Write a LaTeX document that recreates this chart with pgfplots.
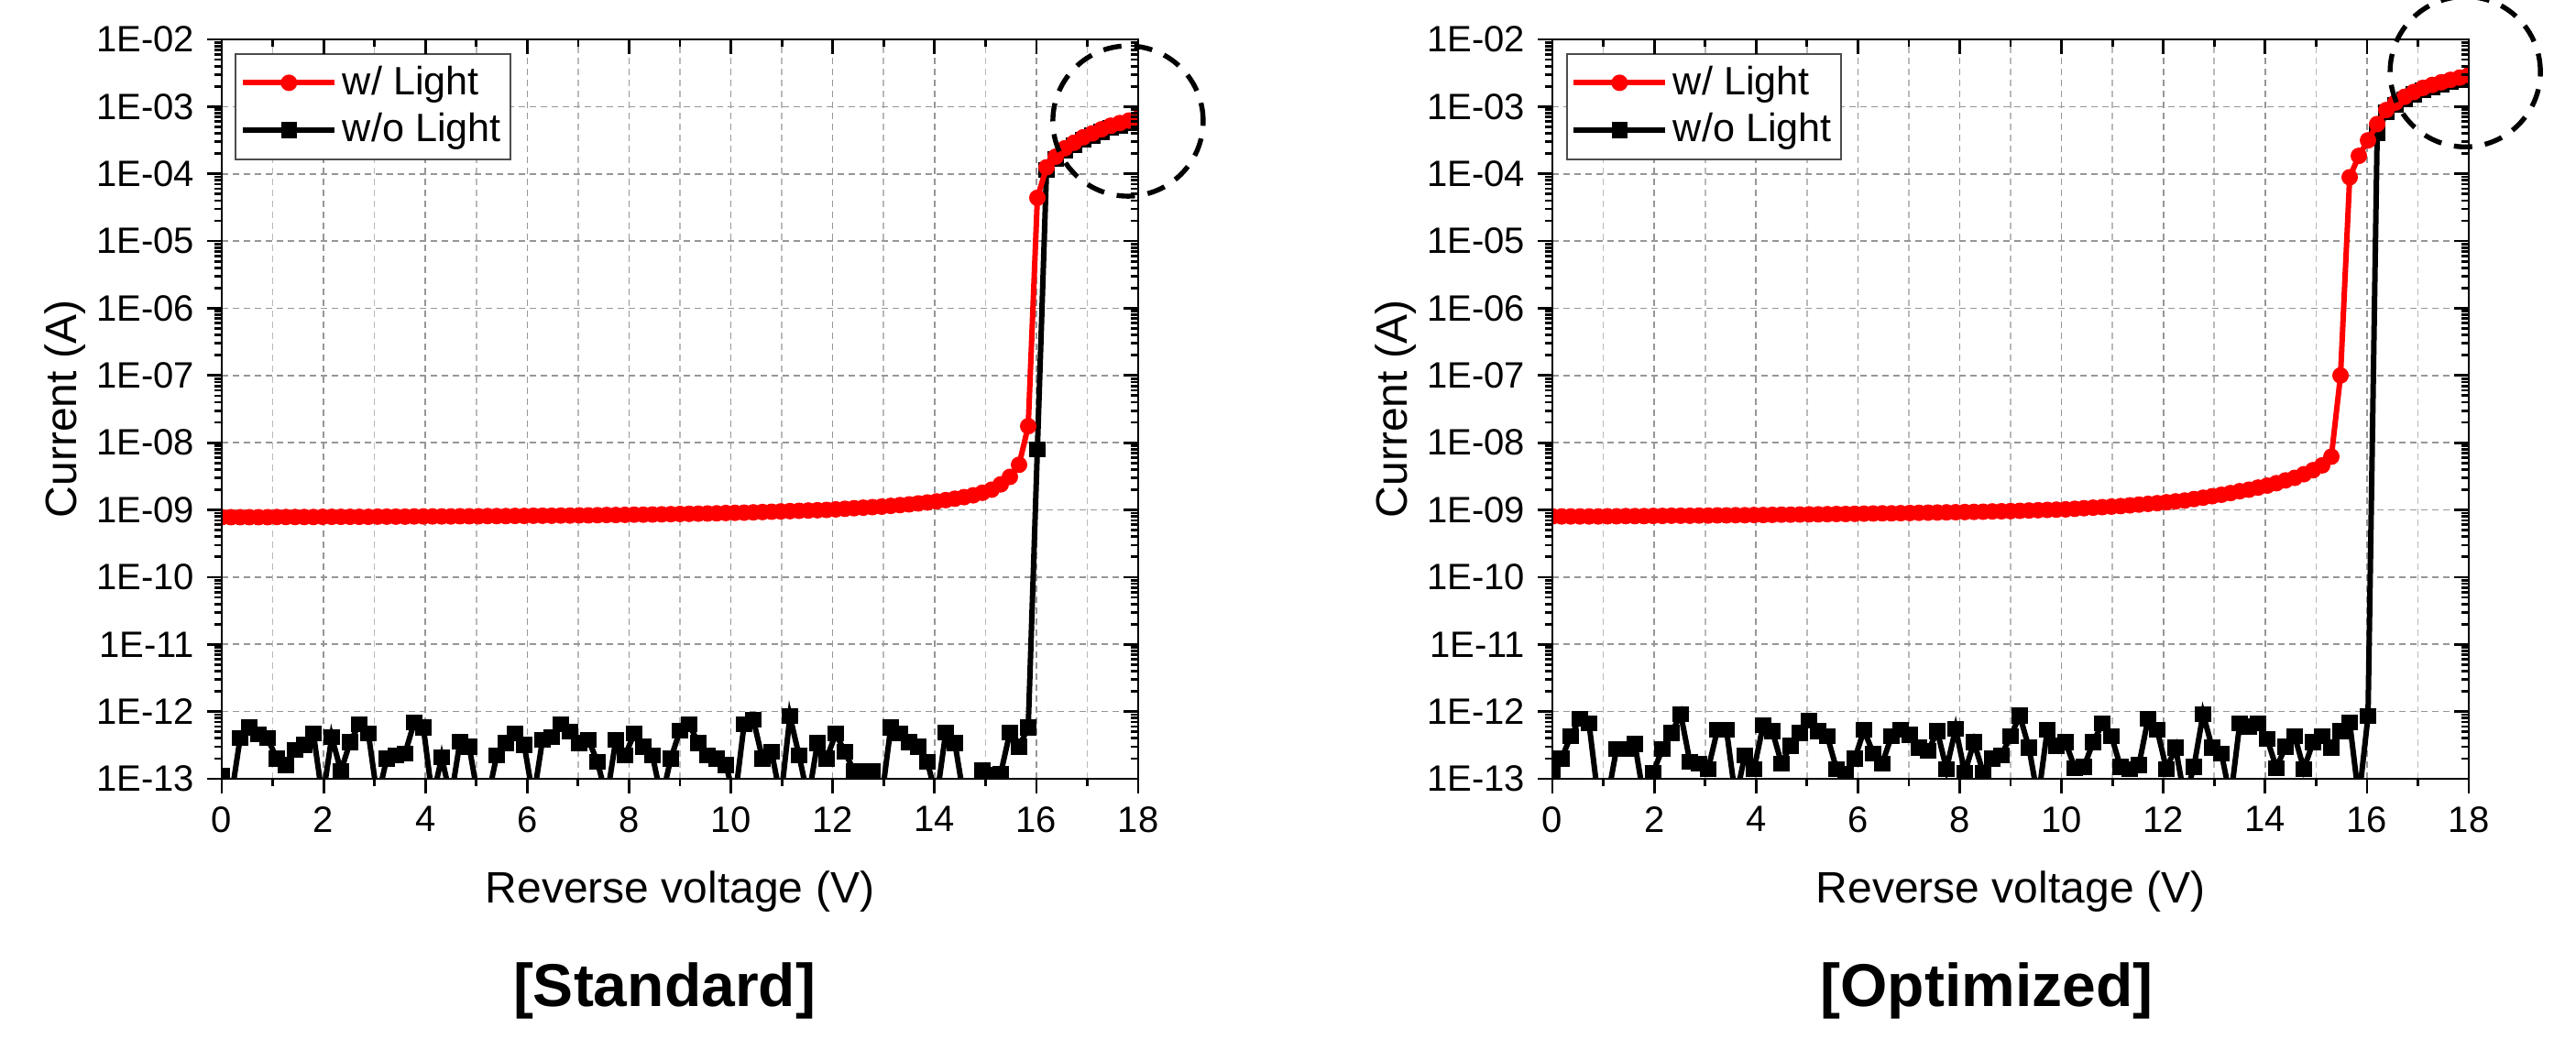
\documentclass[border=0pt]{standalone}
\usepackage{fontspec}
\setmainfont{Liberation Sans}
\usepackage{pgfplots}
\usepackage{pgfplotstable}
\pgfplotsset{compat=1.18}
\definecolor{gridmaj}{RGB}{150,150,150}
\definecolor{gridmin}{RGB}{185,185,185}

\pgfplotstableread{
x rL bL rR bR
0 7.8e-10 1.1e-13 8.0e-10 1.24e-13
0.18 7.8e-10 5e-14 8.0e-10 2.0e-13
0.36 7.8e-10 4.0e-13 8.0e-10 4.3e-13
0.54 7.8e-10 5.8e-13 8.0e-10 7.8e-13
0.72 7.8e-10 4.6e-13 8.0e-10 6.6e-13
0.9 7.8e-10 4.0e-13 8.0e-10 5e-14
1.08 7.85e-10 2.0e-13 8.05e-10 5e-14
1.26 7.85e-10 1.6e-13 8.05e-10 2.8e-13
1.44 7.85e-10 2.7e-13 8.1e-10 2.8e-13
1.62 7.85e-10 3.2e-13 8.1e-10 3.3e-13
1.8 7.85e-10 4.7e-13 8.1e-10 5e-14
1.98 7.9e-10 5e-14 8.15e-10 1.24e-13
2.16 7.9e-10 4.2e-13 8.15e-10 2.8e-13
2.34 7.9e-10 1.3e-13 8.2e-10 4.8e-13
2.52 7.9e-10 3.5e-13 8.2e-10 9.2e-13
2.7 7.9e-10 6.5e-13 8.2e-10 1.8e-13
2.88 7.9e-10 4.7e-13 8.25e-10 1.7e-13
3.06 7.95e-10 5e-14 8.25e-10 1.4e-13
3.24 7.95e-10 2.0e-13 8.3e-10 5.3e-13
3.42 7.95e-10 2.2e-13 8.3e-10 5.3e-13
3.6 7.95e-10 2.4e-13 8.35e-10 5e-14
3.78 8.0e-10 6.9e-13 8.35e-10 2.25e-13
3.96 8.0e-10 5.8e-13 8.4e-10 1.4e-13
4.14 8.0e-10 5e-14 8.4e-10 6.3e-13
4.32 8.0e-10 2.1e-13 8.45e-10 5.1e-13
4.5 8.0e-10 5e-14 8.5e-10 1.7e-13
4.68 8.05e-10 3.6e-13 8.5e-10 3.1e-13
4.86 8.05e-10 3.0e-13 8.55e-10 4.8e-13
5.04 8.05e-10 5e-14 8.6e-10 7.4e-13
5.22 8.1e-10 5e-14 8.6e-10 5.1e-13
5.4 8.1e-10 2.2e-13 8.65e-10 4.3e-13
5.58 8.1e-10 3.4e-13 8.7e-10 1.4e-13
5.76 8.15e-10 4.7e-13 8.7e-10 1.2e-13
5.94 8.15e-10 3.2e-13 8.75e-10 2.0e-13
6.12 8.2e-10 5e-14 8.8e-10 5.3e-13
6.3 8.2e-10 3.8e-13 8.85e-10 2.4e-13
6.48 8.2e-10 4.2e-13 8.9e-10 1.7e-13
6.66 8.25e-10 6.5e-13 8.9e-10 4.3e-13
6.84 8.25e-10 5.0e-13 8.95e-10 5.3e-13
7.02 8.3e-10 3.4e-13 9.0e-10 4.5e-13
7.2 8.3e-10 3.8e-13 9.05e-10 2.9e-13
7.38 8.35e-10 1.8e-13 9.1e-10 2.6e-13
7.56 8.4e-10 5e-14 9.15e-10 5.1e-13
7.74 8.4e-10 3.8e-13 9.2e-10 1.4e-13
7.92 8.45e-10 2.2e-13 9.25e-10 5.6e-13
8.1 8.5e-10 4.7e-13 9.3e-10 1.24e-13
8.28 8.5e-10 3.0e-13 9.35e-10 3.5e-13
8.46 8.55e-10 2.2e-13 9.4e-10 1.24e-13
8.64 8.6e-10 5e-14 9.5e-10 2.0e-13
8.82 8.65e-10 2.0e-13 9.55e-10 2.25e-13
9.0 8.7e-10 5.2e-13 9.6e-10 4.3e-13
9.18 8.75e-10 6.5e-13 9.7e-10 8.7e-13
9.36 8.8e-10 3.4e-13 9.8e-10 2.9e-13
9.54 8.85e-10 2.2e-13 9.9e-10 5e-14
9.72 8.9e-10 2.0e-13 1.0e-9 5.3e-13
9.9 9.0e-10 1.6e-13 1.01e-9 3.1e-13
10.08 9.05e-10 5e-14 1.02e-9 3.5e-13
10.26 9.1e-10 6.5e-13 1.04e-9 1.45e-13
10.44 9.2e-10 7.6e-13 1.06e-9 1.5e-13
10.62 9.3e-10 2.0e-13 1.08e-9 3.5e-13
10.8 9.4e-10 2.5e-13 1.10e-9 6.6e-13
10.98 9.5e-10 5e-14 1.12e-9 4.3e-13
11.16 9.6e-10 8.5e-13 1.14e-9 1.5e-13
11.34 9.7e-10 2.2e-13 1.17e-9 1.4e-13
11.52 9.8e-10 5e-14 1.2e-9 1.6e-13
11.7 9.9e-10 3.4e-13 1.23e-9 7.8e-13
11.88 1.0e-9 2.0e-13 1.26e-9 5.3e-13
12.06 1.02e-9 4.7e-13 1.3e-9 1.4e-13
12.24 1.04e-9 2.5e-13 1.34e-9 2.9e-13
12.42 1.06e-9 1.3e-13 1.38e-9 5e-14
12.6 1.08e-9 1.3e-13 1.45e-9 1.5e-13
12.78 1.1e-9 1.3e-13 1.52e-9 9.2e-13
12.96 1.12e-9 5e-14 1.6e-9 2.9e-13
13.14 1.15e-9 5.8e-13 1.68e-9 2.4e-13
13.32 1.18e-9 4.7e-13 1.78e-9 5e-14
13.5 1.21e-9 3.5e-13 1.9e-9 6.6e-13
13.68 1.25e-9 3.0e-13 2.0e-9 6.0e-13
13.86 1.29e-9 1.8e-13 2.15e-9 6.6e-13
14.04 1.34e-9 5e-14 2.3e-9 3.9e-13
14.22 1.4e-9 4.9e-13 2.5e-9 1.45e-13
14.4 1.47e-9 3.4e-13 2.75e-9 3.0e-13
14.58 1.55e-9 5e-14 3.0e-9 4.3e-13
14.76 1.65e-9 5e-14 3.4e-9 1.4e-13
14.94 1.8e-9 1.35e-13 3.9e-9 3.5e-13
15.12 2.0e-9 1.15e-13 4.6e-9 4.3e-13
15.3 2.4e-9 1.2e-13 6.2e-9 2.9e-13
15.48 3.1e-9 4.9e-13 1.0e-7 5.1e-13
15.66 4.7e-9 3.0e-13 8.9e-5 6.9e-13
15.84 1.76e-8 5.8e-13 1.85e-4 5e-14
16.02 4.4e-5 8e-9 3.15e-4 8.5e-13
16.2 1.25e-4 1.15e-4 5.5e-4 4.0e-4
16.38 1.8e-4 1.65e-4 8.9e-4 8.2e-4
16.56 2.4e-4 2.2e-4 1.15e-3 1.06e-3
16.74 2.9e-4 2.65e-4 1.4e-3 1.29e-3
16.92 3.5e-4 3.2e-4 1.65e-3 1.52e-3
17.1 4.0e-4 3.7e-4 1.9e-3 1.75e-3
17.28 4.6e-4 4.2e-4 2.1e-3 1.93e-3
17.46 5.2e-4 4.8e-4 2.3e-3 2.12e-3
17.64 5.7e-4 5.2e-4 2.5e-3 2.3e-3
17.82 6.2e-4 5.7e-4 2.7e-3 2.48e-3
18 6.7e-4 6.2e-4 2.95e-3 2.71e-3
}\data

\pgfplotsset{
  every axis/.append style={
    width=250pt, height=201.75pt, scale only axis,
    xmin=0, xmax=18, ymin=1e-13, ymax=1e-2,
    xtick={0,2,...,18}, minor x tick num=1,
    major tick length=4pt, minor tick length=2pt,
    axis line style={line width=0.7pt},
    every tick/.style={black, line width=0.7pt},
    tick label style={font=\fontsize{10}{12}\selectfont},
  },
}
\tikzset{
  redl/.style={red, line width=1.5pt, mark=*, mark size=2.05pt, mark options={solid, fill=red, line width=0.4pt}},
  blackl/.style={black, line width=1.5pt, mark=square*, mark size=1.95pt, mark options={solid, fill=black, line width=0.4pt}},
}

\begin{document}
\begin{tikzpicture}
\useasboundingbox (0,0) rectangle (702.75pt,283.25pt);

\begin{semilogyaxis}[at={(60.5pt,70.75pt)}, anchor=south west,
    ytick={1e-13,1e-12,1e-11,1e-10,1e-9,1e-8,1e-7,1e-6,1e-5,1e-4,1e-3,1e-2},
    yticklabels={1E-13,1E-12,1E-11,1E-10,1E-09,1E-08,1E-07,1E-06,1E-05,1E-04,1E-03,1E-02},
    xtick pos=bottom, ytick pos=left, tick align=outside,
    /pgf/number format/assume math mode=true,
    xmajorgrids, xminorgrids, ymajorgrids,
    major grid style={gridmaj, dash pattern=on 1.75pt off 1.25pt, line width=0.4pt},
    minor grid style={gridmin, dash pattern=on 1.75pt off 1.25pt, line width=0.4pt},
    xlabel={Reverse voltage (V)}, ylabel={Current (A)},
    label style={font=\fontsize{12}{14}\selectfont},
    xlabel style={at={(axis description cs:0.5,-0.1524)}, anchor=center},
    ylabel style={at={(axis description cs:-0.171,0.5)}, anchor=center},
    clip marker paths=true,
    reverse legend, legend cell align=left,
    legend style={at={(0.0145,0.982)}, anchor=north west, draw=black!70, line width=0.5pt,
      font=\fontsize{10.8}{13}\selectfont, inner xsep=1.2pt, inner ysep=2.5pt, row sep=2pt,
      nodes={inner xsep=1.4pt, inner ysep=0.8pt}},
    legend image code/.code={\draw[mark repeat=2,mark phase=2,#1] plot coordinates {(0pt,0pt) (12.5pt,0pt) (25pt,0pt)};},
  ]
\addplot[blackl] table[x=x, y=bL] {\data};
\addlegendentry{w/o Light}
\addplot[redl] table[x=x, y=rL] {\data};
\addlegendentry{w/ Light}
\coordinate (cL) at (axis cs:17.8,6.1e-4);
\end{semilogyaxis}
\begin{semilogyaxis}[at={(60.5pt,70.75pt)}, anchor=south west,
    ytick={1e-13,1e-12,1e-11,1e-10,1e-9,1e-8,1e-7,1e-6,1e-5,1e-4,1e-3,1e-2},
    xtick pos=top, ytick pos=right, tick align=inside,
    xticklabels={}, yticklabels={}]
\addplot[draw=none, forget plot] coordinates {(1,1e-5)};
\end{semilogyaxis}

\begin{semilogyaxis}[at={(423.5pt,70.75pt)}, anchor=south west,
    ytick={1e-13,1e-12,1e-11,1e-10,1e-9,1e-8,1e-7,1e-6,1e-5,1e-4,1e-3,1e-2},
    yticklabels={1E-13,1E-12,1E-11,1E-10,1E-09,1E-08,1E-07,1E-06,1E-05,1E-04,1E-03,1E-02},
    xtick pos=bottom, ytick pos=left, tick align=outside,
    /pgf/number format/assume math mode=true,
    xmajorgrids, xminorgrids, ymajorgrids,
    major grid style={gridmaj, dash pattern=on 1.75pt off 1.25pt, line width=0.4pt},
    minor grid style={gridmin, dash pattern=on 1.75pt off 1.25pt, line width=0.4pt},
    xlabel={Reverse voltage (V)}, ylabel={Current (A)},
    label style={font=\fontsize{12}{14}\selectfont},
    xlabel style={at={(axis description cs:0.5,-0.1524)}, anchor=center},
    ylabel style={at={(axis description cs:-0.171,0.5)}, anchor=center},
    clip marker paths=true,
    reverse legend, legend cell align=left,
    legend style={at={(0.0145,0.982)}, anchor=north west, draw=black!70, line width=0.5pt,
      font=\fontsize{10.8}{13}\selectfont, inner xsep=1.2pt, inner ysep=2.5pt, row sep=2pt,
      nodes={inner xsep=1.4pt, inner ysep=0.8pt}},
    legend image code/.code={\draw[mark repeat=2,mark phase=2,#1] plot coordinates {(0pt,0pt) (12.5pt,0pt) (25pt,0pt)};},
  ]
\addplot[blackl] table[x=x, y=bR] {\data};
\addlegendentry{w/o Light}
\addplot[redl] table[x=x, y=rR] {\data};
\addlegendentry{w/ Light}
\coordinate (cR) at (axis cs:17.93,3.3e-3);
\end{semilogyaxis}
\begin{semilogyaxis}[at={(423.5pt,70.75pt)}, anchor=south west,
    ytick={1e-13,1e-12,1e-11,1e-10,1e-9,1e-8,1e-7,1e-6,1e-5,1e-4,1e-3,1e-2},
    xtick pos=top, ytick pos=right, tick align=inside,
    xticklabels={}, yticklabels={}]
\addplot[draw=none, forget plot] coordinates {(1,1e-5)};
\end{semilogyaxis}

\draw[black, line width=1.35pt, dash pattern=on 5pt off 3.5pt] (cL) circle[radius=20.5pt];
\draw[black, line width=1.35pt, dash pattern=on 5pt off 3.5pt] (cR) circle[radius=20.5pt];

\node[font=\bfseries\fontsize{16.5}{20}\selectfont] at (181.25pt,13pt) {[Standard]};
\node[font=\bfseries\fontsize{16.5}{20}\selectfont] at (542pt,13pt) {[Optimized]};
\end{tikzpicture}
\end{document}
